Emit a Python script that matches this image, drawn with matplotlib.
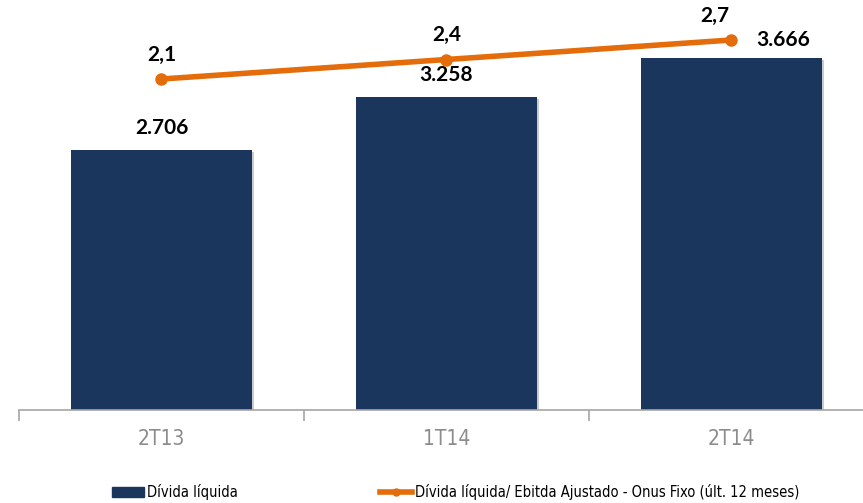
import matplotlib
matplotlib.use("Agg")
import matplotlib.pyplot as plt
import matplotlib.patheffects as pe
from matplotlib.lines import Line2D
from matplotlib.patches import Patch
from matplotlib import font_manager

# Data
categories = ["2T13", "1T14", "2T14"]
divida = [2706, 3258, 3666]
divida_labels = ["2.706", "3.258", "3.666"]
ratio = [2.1, 2.4, 2.7]
ratio_labels = ["2,1", "2,4", "2,7"]

navy = "#1B365D"
orange = "#E46C0A"
gray = "#8C8C8C"

fig = plt.figure(figsize=(8.63, 5.03), dpi=100)
ax = fig.add_axes([19 / 863, 1 - 410 / 503, 855 / 863, 410 / 503])
x = range(len(categories))

# bars with a soft shadow
ax.bar(x, divida, width=0.635, color=navy, zorder=2,
       path_effects=[pe.SimplePatchShadow(offset=(1.5, -1.5), shadow_rgbFace="#999999", alpha=0.5),
                     pe.Normal()])
ax.set_xlim(-0.5, 2.5)
ax.set_ylim(0, 4271)

for i, (v, lab) in enumerate(zip(divida, divida_labels)):
    if i < 2:
        ax.text(i, v + 130, lab, ha="center", va="bottom", fontsize=15,
                fontweight="bold", family="Lato", color="black")

# ratio line on its own axis
ax2 = ax.twinx()
ax2.set_ylim(-2.99, 3.315)
ax2.plot(x, ratio, color=orange, linewidth=4, marker="o", markersize=8, zorder=3,
         solid_capstyle="round")
offsets = [(0, 0.22), (0, 0.22), (-0.06, 0.22)]
for i, (v, lab) in enumerate(zip(ratio, ratio_labels)):
    dx, dy = offsets[i]
    ax2.text(i + dx, v + dy, lab, ha="center", va="bottom", fontsize=15,
             fontweight="bold", family="Lato", color="black")
# last bar label sits to the right of the last point
ax2.text(2 + 0.18, ratio[2], divida_labels[2], ha="center", va="center", fontsize=15,
         fontweight="bold", family="Lato", color="black")

for a in (ax, ax2):
    for s in ["top", "right", "left"]:
        a.spines[s].set_visible(False)
    a.set_yticks([])
ax.spines["bottom"].set_color("#A6A6A6")
ax.spines["bottom"].set_linewidth(1.2)
ax2.spines["bottom"].set_visible(False)

narrow = font_manager.FontProperties(family="DejaVu Sans", stretch="condensed", size=15)
ax.set_xticks(list(x))
ax.set_xticklabels(categories, color=gray, fontproperties=narrow)
ax.tick_params(axis="x", length=0, pad=14)
ax.set_xticks([-0.5, 0.5, 1.5, 2.5], minor=True)
ax.tick_params(axis="x", which="minor", length=8, color="#A6A6A6", width=1.2)

handles = [Patch(color=navy),
           Line2D([0], [0], color=orange, linewidth=4, marker="o", markersize=5)]
labels = ["Dívida líquida", "Dívida líquida/ Ebitda Ajustado - Onus Fixo (últ. 12 meses)"]
fig.legend(handles, labels, loc="center", bbox_to_anchor=(0.528, 0.022), ncol=2,
           frameon=False, columnspacing=9.8, handlelength=2.2, handletextpad=0.2,
           prop=font_manager.FontProperties(family="DejaVu Sans", stretch="condensed", size=10.5))

fig.savefig("out.png", dpi=100)
